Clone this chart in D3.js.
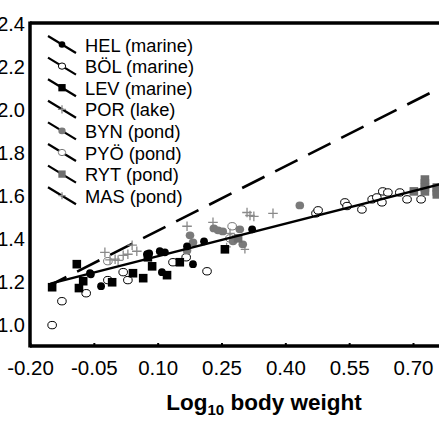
<!DOCTYPE html>
<html><head><meta charset="utf-8">
<script src="https://cdn.jsdelivr.net/npm/d3@7"></script>
<style>html,body{margin:0;padding:0;background:#fff;overflow:hidden}svg{display:block}</style>
</head><body><svg id="c" width="439" height="439"></svg>
<script>
const xTicks=[-0.20,-0.05,0.10,0.25,0.40,0.55,0.70];
const yTicks=[1.0,1.2,1.4,1.6,1.8,2.0,2.2,2.4];
const populations=["HEL (marine)","BÖL (marine)","LEV (marine)","POR (lake)","BYN (pond)","PYÖ (pond)","RYT (pond)","MAS (pond)"];
const markers=["dotBlack","circleOpen","squareBlack","plusGray","dotGray","circleOpenGray","squareGray","plusGraySmall"];
const HEL=[[-0.057,1.233],[-0.033,1.178],[0.075,1.326],[0.080,1.33],[0.105,1.34],[0.117,1.335],[0.110,1.243],[0.169,1.363],[0.209,1.386],[0.183,1.28],[0.322,1.442],[-0.059,1.238]];
const BOL=[[-0.148,0.997],[-0.125,1.108],[-0.068,1.145],[-0.017,1.206],[0.019,1.243],[0.030,1.206],[0.136,1.289],[0.167,1.312],[0.216,1.247],[0.472,1.516],[0.477,1.53],[0.540,1.567],[0.545,1.55],[0.580,1.534],[0.604,1.581],[0.615,1.59],[0.627,1.567],[0.629,1.618],[0.641,1.613],[0.669,1.613],[0.686,1.581],[0.719,1.581]];
const LEV=[[-0.148,1.173],[-0.090,1.28],[-0.075,1.201],[-0.085,1.169],[-0.007,1.196],[0.042,1.238],[0.066,1.215],[0.077,1.312],[0.087,1.27],[0.122,1.229],[0.152,1.289],[0.258,1.349]];
const POR=[[-0.024,1.335],[0.0,1.303],[0.007,1.298],[0.019,1.321],[0.030,1.326],[0.040,1.368],[0.051,1.34],[0.169,1.456],[0.230,1.474],[0.270,1.423],[0.310,1.52],[0.317,1.506],[0.326,1.502],[0.371,1.516],[-0.012,1.30]];
const BYN=[[0.176,1.414],[0.183,1.381],[0.232,1.446],[0.242,1.437],[0.253,1.432],[0.277,1.386],[0.293,1.442],[0.434,1.553],[0.169,1.344],[0.300,1.372]];
const PYO=[[0.275,1.456],[-0.017,1.294],[0.270,1.40]];
const RYT=[[0.289,1.40],[0.702,1.618],[0.728,1.673],[0.728,1.655],[0.728,1.636],[0.728,1.618],[0.756,1.636],[0.756,1.618],[0.756,1.604]];
const MAS=[[0.305,1.349],[0.262,1.36]];
const seriesData=[HEL,BOL,LEV,POR,BYN,PYO,RYT,MAS];
const fitLine=[[-0.152,1.19],[0.765,1.652]];
const isoLine=[[-0.148,1.187],[0.765,2.10]];

const svg=d3.select("#c");
const x=d3.scaleLinear().domain([-0.20,0.70]).range([30,413]);
const y=d3.scaleLinear().domain([0.9,2.4]).range([346,23]);
const font="Liberation Sans, Arial, sans-serif";

// frame
svg.append("line").attr("x1",x(-0.2)).attr("x2",445).attr("y1",y(2.4)).attr("y2",y(2.4)).attr("stroke","#000").attr("stroke-width",3.5);
svg.append("line").attr("x1",x(-0.2)).attr("x2",x(-0.2)).attr("y1",y(2.4)-1.5).attr("y2",y(0.9)+1.5).attr("stroke","#000").attr("stroke-width",3.5);
svg.append("line").attr("x1",x(-0.2)).attr("x2",445).attr("y1",y(0.9)).attr("y2",y(0.9)).attr("stroke","#000").attr("stroke-width",3.5);

// x axis
const xa=svg.append("g").attr("transform",`translate(0,${y(0.9)})`)
 .call(d3.axisBottom(x).tickValues(xTicks).tickFormat(d=>d3.format(".2f")(d).replace("\u2212","-")).tickSizeInner(-3).tickSizeOuter(0));
xa.select(".domain").remove();
xa.selectAll("line").attr("stroke","#000").attr("stroke-width",2);
xa.selectAll("text").attr("font-family",font).attr("font-size",20.5).attr("fill","#000").attr("dy",0).attr("y",29);

// y axis
const ya=svg.append("g").attr("transform",`translate(${x(-0.2)},0)`)
 .call(d3.axisLeft(y).tickValues(yTicks).tickFormat(d3.format(".1f")).tickSize(0));
ya.select(".domain").remove();
ya.selectAll("text").attr("font-family",font).attr("font-size",20).attr("fill","#000").attr("x",-5).attr("dy","0.36em");

// axis title
const t=svg.append("text").attr("x",264).attr("y",410).attr("text-anchor","middle").attr("font-family",font).attr("font-weight","bold").attr("font-size",22.5).attr("fill","#000");
t.append("tspan").text("Log");
t.append("tspan").attr("font-size",15).attr("dy",5).text("10");
t.append("tspan").attr("dy",-5).text(" body weight");

// lines
const line=d3.line().x(d=>x(d[0])).y(d=>y(d[1]));
svg.append("path").attr("d",line(isoLine)).attr("fill","none").attr("stroke","#000").attr("stroke-width",2.6).attr("stroke-dasharray","25,12").attr("stroke-dashoffset",9);

function drawMarker(g,type,cx,cy,s){
  s=s||1;
  if(type==="dotBlack") g.append("circle").attr("cx",cx).attr("cy",cy).attr("r",3.9*s).attr("fill","#000");
  else if(type==="dotGray") g.append("ellipse").attr("cx",cx).attr("cy",cy).attr("rx",4.3*s).attr("ry",3.9*s).attr("fill","#7a7a7a");
  else if(type==="circleOpen") g.append("ellipse").attr("cx",cx).attr("cy",cy).attr("rx",4.3*s).attr("ry",3.7*s).attr("fill","#fff").attr("stroke","#000").attr("stroke-width",1);
  else if(type==="circleOpenGray") g.append("ellipse").attr("cx",cx).attr("cy",cy).attr("rx",4.3*s).attr("ry",3.7*s).attr("fill","#fff").attr("stroke","#777").attr("stroke-width",1);
  else if(type==="squareBlack") g.append("rect").attr("x",cx-4.3*s).attr("y",cy-4.3*s).attr("width",8.6*s).attr("height",8.6*s).attr("fill","#000");
  else if(type==="squareGray") g.append("rect").attr("x",cx-4.3*s).attr("y",cy-4.3*s).attr("width",8.6*s).attr("height",8.6*s).attr("fill","#6e6e6e");
  else if(type==="plusGray"||type==="plusGraySmall"){
    const h=(type==="plusGray"?4.8:4.2)*s;
    g.append("path").attr("d",`M${cx-h},${cy}H${cx+h}M${cx},${cy-h}V${cy+h}`).attr("stroke","#8a8a8a").attr("stroke-width",1.3).attr("fill","none");
  }
}

const order=[1,5,3,7,4,6,2,0];
order.forEach(i=>{
  const g=svg.append("g");
  seriesData[i].forEach(d=>drawMarker(g,markers[i],x(d[0]),y(d[1])));
});

svg.append("path").attr("d",line(fitLine)).attr("fill","none").attr("stroke","#000").attr("stroke-width",2.4);

// legend
const lg=svg.append("g");
populations.forEach((p,i)=>{
  const cy=45+i*21.6;
  lg.append("line").attr("x1",48).attr("y1",cy-9).attr("x2",76).attr("y2",cy+8).attr("stroke","#000").attr("stroke-width",2.2);
  drawMarker(lg,markers[i],62,cy-0.5,0.85);
  lg.append("text").attr("x",85).attr("y",cy+6.5).attr("font-family",font).attr("font-size",18.3).attr("fill","#000").text(p);
});
</script></body></html>
